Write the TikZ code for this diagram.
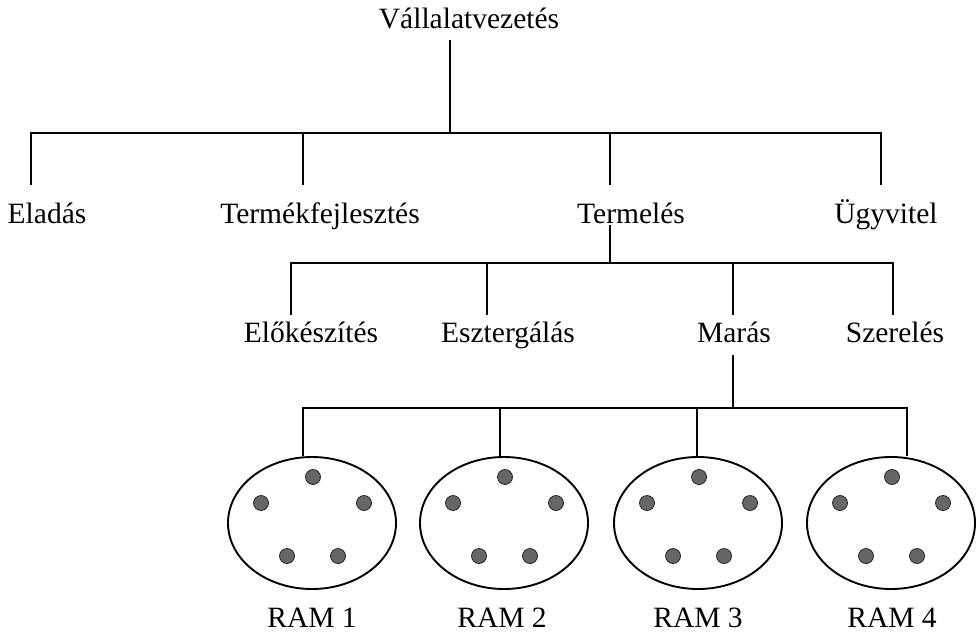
\documentclass[tikz,border=0pt]{standalone}
\usepackage{fontspec}
\setmainfont{Liberation Serif}
\usetikzlibrary{shapes.geometric,calc}

\tikzset{
  wire/.style={line width=1.9pt, line cap=butt},
  lbl/.style={anchor=base, inner xsep=0pt, text height=20pt, text depth=6pt,
              font=\fontsize{29.5}{34}\selectfont},
  lvlzero/.style={lbl, inner ysep=6pt},
  lvlone/.style={lbl, inner ysep=18pt},
  lvltwo/.style={lbl, inner ysep=7pt},
  ramlbl/.style={lbl, inner ysep=0pt, text depth=0pt},
  cell/.style={ellipse, draw, line width=1.9pt, minimum width=168pt,
               minimum height=132pt, inner sep=0pt},
  dot/.style={fill=black!60, draw=black!85, line width=0.8pt}
}

\begin{document}
\begin{tikzpicture}[x=1pt, y=-1pt]
\useasboundingbox (0,0) rectangle (976,632);

% text labels
\node[lvlzero] (top)  at (469,28)  {Vállalatvezetés};
\node[lvlone]  (elad) at (47,223)  {Eladás};
\node[lvlone]  (fejl) at (320,223) {Termékfejlesztés};
\node[lvlone]  (term) at (631,223) {Termelés};
\node[lvlone]  (ugyv) at (886,223) {Ügyvitel};
\node[lvltwo]  (elok) at (311,342) {Előkészítés};
\node[lvltwo]  (eszt) at (508,342) {Esztergálás};
\node[lvltwo]  (mara) at (734,342) {Marás};
\node[lvltwo]  (szer) at (895,342) {Szerelés};

% machine groups
\node[cell] (r1) at (312,523) {};
\node[cell] (r2) at (504,523) {};
\node[cell] (r3) at (698,523) {};
\node[cell] (r4) at (891,523) {};
\node[ramlbl] (l1) at (312,627) {RAM 1};
\node[ramlbl] (l2) at (502,627) {RAM 2};
\node[ramlbl] (l3) at (698,627) {RAM 3};
\node[ramlbl] (l4) at (892,627) {RAM 4};

\foreach \c in {r1,r2,r3,r4}{
  \foreach \dx/\dy in {1/-46, -51/-20, 52/-20, -25/33, 26/33}{
    \path[dot] ($(\c.center)+(\dx,\dy)$) circle[radius=7.5pt];
  }
}

% bus junctions
\coordinate (ta) at (450,133);
\coordinate (ba) at (31,133);
\coordinate (bf) at (303,133);
\coordinate (bt) at (610,133);
\coordinate (bb) at (881,133);
\coordinate (ts) at (610,225);
\coordinate (ca) at (291,263);
\coordinate (ce) at (487,263);
\coordinate (cm) at (733,263);
\coordinate (cb) at (893,263);
\coordinate (ms) at (733,355);
\coordinate (da) at (303,408);
\coordinate (d2) at (500,408);
\coordinate (d3) at (697,408);
\coordinate (db) at (907,408);

% first level
\draw[wire] (top.south -| ta) -- (ta);
\draw[wire] (ba |- elad.north) -- (ba) -- (bb) -- (bb |- ugyv.north);
\draw[wire] (bf) -- (bf |- fejl.north);
\draw[wire] (bt) -- (bt |- term.north);

% second level
\draw[wire] (ts) -- (ts |- ca);
\draw[wire] (ca |- elok.north) -- (ca) -- (cb) -- (cb |- szer.north);
\draw[wire] (ce) -- (ce |- eszt.north);
\draw[wire] (cm) -- (cm |- mara.north);

% third level
\draw[wire] (ms) -- (ms |- da);
\draw[wire] (da |- r1.north) -- (da) -- (db) -- (db |- r4.north);
\draw[wire] (d2) -- (d2 |- r2.north);
\draw[wire] (d3) -- (d3 |- r3.north);
\end{tikzpicture}
\end{document}
